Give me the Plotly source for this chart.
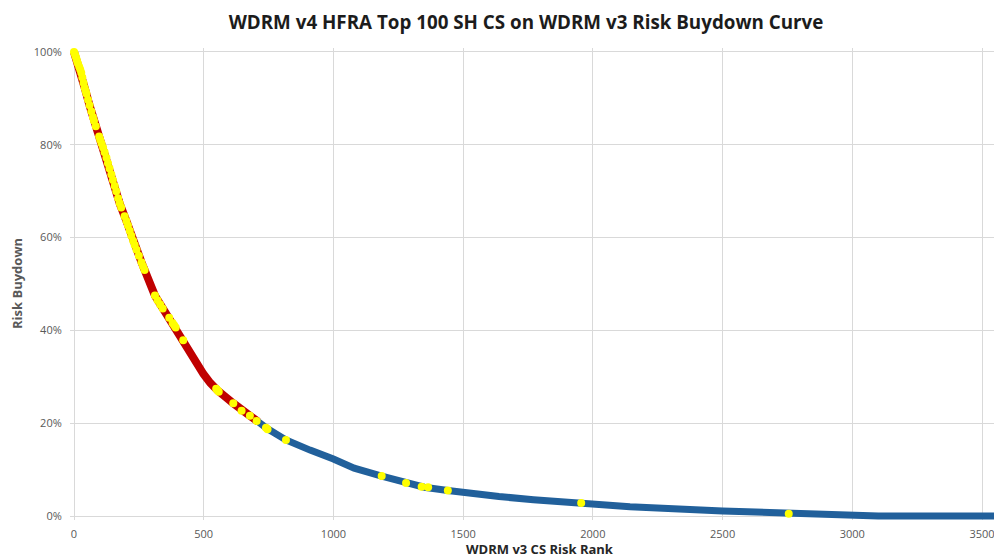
import plotly.graph_objects as go

# ---- data ----
red_rank = [0, 25, 41, 61, 74, 99, 125, 151, 177, 202, 228, 260, 312, 342, 367, 386,
            421, 460, 499, 525, 553, 614, 646, 678, 710]
red_pct = [100, 96, 92.3, 88.3, 85.8, 81.5, 77.2, 72.2, 67.2, 63.6, 59.3, 54.7, 47.5, 44.7,
           42.7, 41.1, 37.9, 34.3, 30.6, 28.7, 27.1, 24.3, 22.7, 21.6, 20.3]

blue_rank = [710, 743, 817, 871, 910, 1000, 1040, 1080, 1186, 1280, 1350, 1441, 1500, 1638,
             1771, 1955, 2000, 2143, 2500, 2755, 3000, 3100, 3600]
blue_pct = [20.3, 18.9, 16.4, 14.9, 14.2, 12.3, 11.2, 10.3, 8.6, 7.1, 6.2, 5.5, 5.0, 4.2,
            3.5, 2.8, 2.7, 2.0, 1.1, 0.5, 0.15, 0.0, 0.0]

top_rank = [0, 3, 6, 9, 12, 15, 20, 24, 28, 32, 37, 41, 45, 48, 54, 60, 67, 73, 77, 84,
            97, 101, 106, 112, 118, 125, 131, 137, 144, 150, 157, 163, 170, 176, 182, 195,
            202, 208, 215, 221, 228, 234, 241, 250, 260, 266, 272, 312, 322, 332, 342, 367,
            380, 386, 392, 421, 548, 553, 558, 614, 646, 678, 704, 740, 746, 817, 1186, 1280,
            1340, 1365, 1441, 1955, 2755]
top_pct = [100, 99.6, 99.1, 98.6, 98.0, 97.5, 96.8, 96.2, 95.5, 94.5, 93.3, 92.3, 91.6, 91.0,
           89.7, 88.5, 87.2, 86.0, 85.2, 84.0, 81.8, 81.1, 80.3, 79.4, 78.4, 77.2, 76.0, 74.9,
           73.6, 72.4, 71.1, 70.0, 68.5, 67.4, 66.5, 64.6, 63.6, 62.6, 61.5, 60.4, 59.3, 58.4,
           57.4, 56.1, 54.7, 53.8, 53.0, 47.5, 46.5, 45.6, 44.7, 42.7, 41.6, 41.1, 40.6, 37.9,
           27.4, 27.1, 26.8, 24.3, 22.7, 21.6, 20.5, 19.0, 18.7, 16.4, 8.6, 7.1, 6.3, 6.2, 5.5,
           2.8, 0.5]

x_ticks = [0, 500, 1000, 1500, 2000, 2500, 3000, 3500]
y_ticks = [0, 20, 40, 60, 80, 100]
y_tick_labels = ["0%", "20%", "40%", "60%", "80%", "100%"]

title_text = "WDRM v4 HFRA Top 100 SH CS on WDRM v3 Risk Buydown Curve"
x_title = "WDRM v3 CS Risk Rank"
y_title = "Risk Buydown"

RED = "#C00000"
BLUE = "#21609B"
YELLOW = "#FFFF00"
GRID = "#D9D9D9"
TICK = "#595959"

# the page body has an 8px margin, so the figure is sized/offset to compensate
W, H = 994, 550

fig = go.Figure()
fig.add_trace(go.Scatter(x=blue_rank, y=blue_pct, mode="lines",
                         line=dict(color=BLUE, width=7), hoverinfo="skip", showlegend=False))
fig.add_trace(go.Scatter(x=red_rank, y=red_pct, mode="lines",
                         line=dict(color=RED, width=8), hoverinfo="skip", showlegend=False))
fig.add_trace(go.Scatter(x=top_rank, y=top_pct, mode="markers", cliponaxis=False,
                         marker=dict(color=YELLOW, size=8, line=dict(width=0)),
                         showlegend=False))

fig.update_layout(
    width=W, height=H,
    margin=dict(l=62, r=0, t=40, b=38, autoexpand=False),
    paper_bgcolor="white", plot_bgcolor="white",
    font=dict(family="Open Sans", size=11, color=TICK),
    title=dict(text=title_text, x=518 / W, xref="container", xanchor="center",
               y=1 - 14 / H, yref="container", yanchor="middle",
               font=dict(family="Open Sans", size=18.8, color="#1C1C1C", weight="bold")),
    xaxis=dict(range=[-15.4, 3577], tickvals=x_ticks, showgrid=True, gridcolor=GRID,
               gridwidth=1, zeroline=False, showline=False, ticks="outside", ticklen=4,
               tickcolor="rgba(0,0,0,0)", tickfont=dict(size=11, color=TICK)),
    yaxis=dict(range=[-0.86, 100.86], tickvals=y_ticks, ticktext=y_tick_labels,
               showgrid=True, gridcolor=GRID, gridwidth=1, zeroline=False, showline=False,
               ticks="outside", ticklen=5, tickcolor="rgba(0,0,0,0)",
               tickfont=dict(size=11, color=TICK)),
    annotations=[
        dict(text=x_title, xref="paper", yref="paper", x=(540 - 70) / 932, y=0,
             yshift=-29, xanchor="center", yanchor="middle", showarrow=False,
             font=dict(family="Open Sans", size=13, color="#262626", weight="bold")),
        dict(text=y_title, xref="paper", yref="paper", x=0, y=(520 - 284) / 472,
             xshift=-53, textangle=-90, xanchor="center", yanchor="middle", showarrow=False,
             font=dict(family="Open Sans", size=13, color=TICK, weight="bold")),
    ],
)

fig.write_html("out.html")
